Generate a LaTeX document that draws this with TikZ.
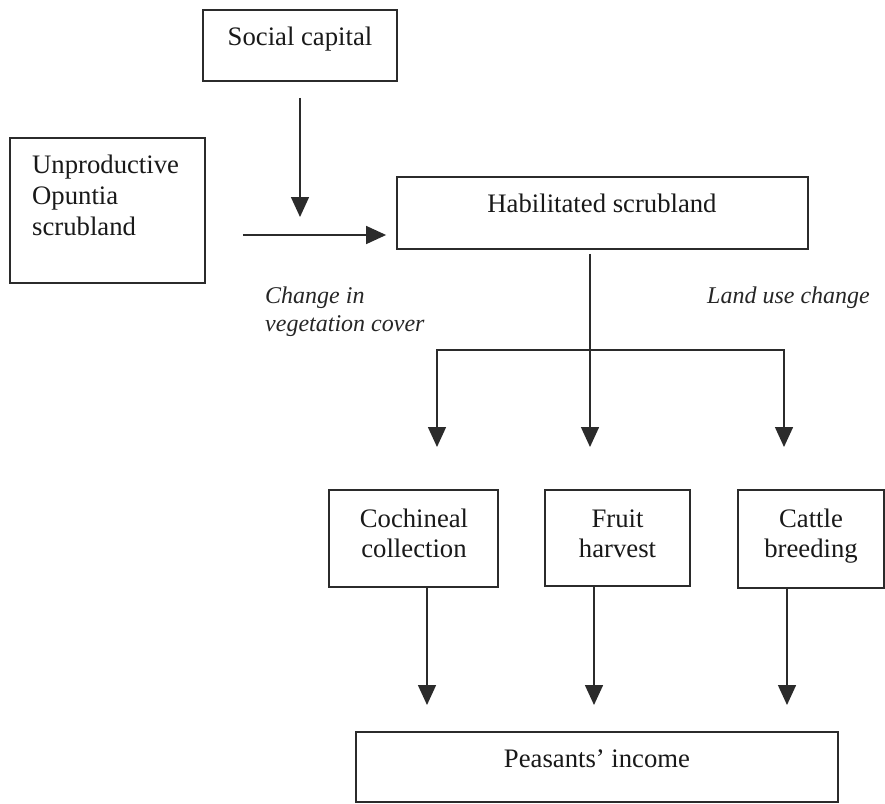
\documentclass[tikz,border=0pt]{standalone}
\usepackage{fontspec}
\setmainfont{Liberation Serif}
\usetikzlibrary{arrows.meta,calc}
\definecolor{ink}{HTML}{2B2B2B}
\begin{document}
\begin{tikzpicture}[x=1pt,y=-1pt,
  box/.style={draw=ink,line width=1.8pt,inner sep=0pt},
  lbl/.style={anchor=base,inner sep=0pt,font=\fontsize{26.7}{31}\selectfont,text=black!90},
  lblw/.style={lbl,anchor=base west},
  note/.style={anchor=base west,inner sep=0pt,font=\fontsize{24}{28}\selectfont\itshape,text=black!85},
  arr/.style={draw=ink,line width=1.5pt,-{Triangle[width=18pt,length=20pt]}},
  ln/.style={draw=ink,line width=1.5pt,line cap=rect}]
\useasboundingbox[fill=white] (0,0) rectangle (885,803);

% boxes
\node[box,minimum width=194pt,minimum height=71pt]  (social) at (300,45.5) {};
\node[box,minimum width=195pt,minimum height=145pt] (unprod) at (107.5,210.5) {};
\node[box,minimum width=411pt,minimum height=72pt]  (habil)  at (602.5,213) {};
\node[box,minimum width=169pt,minimum height=97pt]  (coch)   at (413.5,538.5) {};
\node[box,minimum width=145pt,minimum height=96pt]  (fruit)  at (617.5,538) {};
\node[box,minimum width=146pt,minimum height=98pt]  (cattle) at (811,539) {};
\node[box,minimum width=482pt,minimum height=70pt]  (peas)   at (597,767) {};

% box texts
\node[lbl]  (socialtxt) at (300,45) {Social capital};
\node[lblw] (unprod1) at (32,173) {Unproductive};
\node[lblw] (unprod2) at (32,204) {Opuntia};
\node[lblw] (unprod3) at (32,235) {scrubland};
\node[lbl]  (habiltxt) at (602,212) {Habilitated scrubland};
\node[lbl]  (coch1) at (414,527) {Cochineal};
\node[lbl]  (coch2) at (414,557) {collection};
\node[lbl]  (fruit1) at (617.5,527) {Fruit};
\node[lbl]  (fruit2) at (617.5,557) {harvest};
\node[lbl]  (cattle1) at (811,527) {Cattle};
\node[lbl]  (cattle2) at (811,557) {breeding};
\node[lbl]  (peastxt) at (597,767) {Peasants' income};

% italic labels
\node[note] (veg1) at (265,303) {Change in};
\node[note] (veg2) at (265,331) {vegetation cover};
\node[note] (land) at (707,303) {Land use change};

% connector points
\coordinate (join) at (300,217);
\coordinate (hrow) at (0,235);
\coordinate (b1) at (437,350);
\coordinate (b3) at (784,350);
\coordinate (t1) at (437,447);
\coordinate (t2) at (590,447);
\coordinate (t3) at (784,447);
\coordinate (l1) at (427,705);
\coordinate (l2) at (594,705);
\coordinate (l3) at (787,705);

% top inputs
\draw[arr,shorten <=16pt] (social.south) -- (join);
\draw[arr,shorten <=37pt,shorten >=10pt] (unprod.east |- hrow) -- (habil.west |- hrow);

% land use branches
\draw[arr,shorten <=4pt] (habil.south -| t2) -- (t2);
\draw[ln] (b1) -- (b3);
\draw[arr] (b1) -- (t1);
\draw[arr] (b3) -- (t3);

% outputs to income
\draw[arr] (coch.south -| l1) -- (l1);
\draw[arr] (fruit.south -| l2) -- (l2);
\draw[arr] (cattle.south -| l3) -- (l3);
\end{tikzpicture}
\end{document}
